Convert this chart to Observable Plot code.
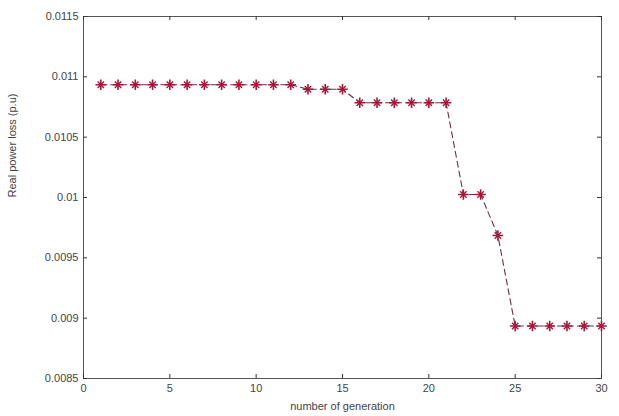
<!DOCTYPE html>
<html>
<head>
<meta charset="utf-8">
<script src="https://cdn.jsdelivr.net/npm/d3@7"></script>
<script src="https://cdn.jsdelivr.net/npm/@observablehq/plot@0.6"></script>
<style>
  html, body { margin: 0; padding: 0; background: #fff; }
  #chart { width: 619px; height: 416px; }
</style>
</head>
<body>
<div id="chart"></div>
<script>
const generations = [1,2,3,4,5,6,7,8,9,10,11,12,13,14,15,16,17,18,19,20,21,22,23,24,25,26,27,28,29,30];
const powerLoss = [
  0.010934,0.010934,0.010934,0.010934,0.010934,0.010934,0.010934,0.010934,0.010934,0.010934,0.010934,0.010934,
  0.010897,0.010897,0.010897,
  0.010785,0.010785,0.010785,0.010785,0.010785,0.010785,
  0.010025,0.010025,
  0.009685,
  0.008935,0.008935,0.008935,0.008935,0.008935,0.008935
];
const xTicks = [0,5,10,15,20,25,30];
const yTicks = [0.0085,0.009,0.0095,0.01,0.0105,0.011,0.0115];
const yTickLabels = ["0.0085","0.009","0.0095","0.01","0.0105","0.011","0.0115"];
const xDomain = [0, 30];
const yDomain = [0.0085, 0.0115];

const data = generations.map((g, i) => ({g, v: powerLoss[i]}));
const fmtY = d => yTickLabels[yTicks.findIndex(t => Math.abs(t - d) < 1e-9)];
const tickStroke = "#333";

const chart = Plot.plot({
  width: 619,
  height: 416,
  marginLeft: 83,
  marginRight: 18,
  marginTop: 16,
  marginBottom: 38,
  style: {fontFamily: "Liberation Sans, Arial, sans-serif", fontSize: "11px", color: "#444", background: "#fff"},
  x: {domain: xDomain},
  y: {domain: yDomain},
  marks: [
    Plot.frame({stroke: "#555"}),
    Plot.axisX({ticks: xTicks, anchor: "bottom", tickSize: 0, tickPadding: 6, label: null, fill: "#444"}),
    Plot.axisY({ticks: yTicks, anchor: "left", tickSize: 0, tickPadding: 5, tickFormat: fmtY, label: null, fill: "#444"}),
    // inward tick marks on all four sides (box axes)
    Plot.ruleX(xTicks, {x: d => d, y1: yDomain[0], y2: yDomain[0], insetBottom: 4, stroke: tickStroke}),
    Plot.ruleX(xTicks, {x: d => d, y1: yDomain[1], y2: yDomain[1], insetTop: 4, stroke: tickStroke}),
    Plot.ruleY(yTicks, {y: d => d, x1: xDomain[0], x2: xDomain[0], insetLeft: 4, stroke: tickStroke}),
    Plot.ruleY(yTicks, {y: d => d, x1: xDomain[1], x2: xDomain[1], insetRight: 4, stroke: tickStroke}),
    Plot.text(["number of generation"], {frameAnchor: "bottom", dy: 31, fill: "#444", fontSize: 11}),
    Plot.text(["Real power loss (p.u)"], {frameAnchor: "left", dx: -71, rotate: -90, fill: "#444", fontSize: 11}),
    Plot.line(data, {x: "g", y: "v", stroke: "#6a3040", strokeWidth: 1.1, strokeDasharray: "6,4"}),
    Plot.dot(data, {x: "g", y: "v", symbol: "plus", r: 3.5, stroke: "#a0183a", strokeWidth: 1.6}),
    Plot.dot(data, {x: "g", y: "v", symbol: "times", r: 3, stroke: "#a0183a", strokeWidth: 1.4})
  ]
});
document.getElementById("chart").appendChild(chart);
</script>
</body>
</html>
